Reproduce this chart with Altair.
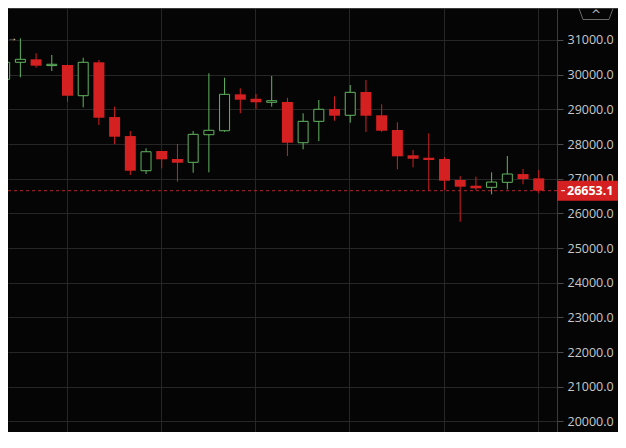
import altair as alt
import pandas as pd

# ---- data (daily candles) ----
idx = list(range(35))
opens = [29866, 30357, 30443, 30262, 30279, 29393, 30357, 28778, 28230, 27229,
         27798, 27567, 27472, 28268, 28383, 29433, 29306, 29203, 29211, 28037,
         28654, 29009, 28828, 29500, 28828, 28404, 27674, 27604, 27567, 26961,
         26797, 26750, 26895, 27134, 27010]
highs = [30450, 31049, 30616, 30567, 30290, 30489, 30423, 29076, 28375, 27876,
         27800, 28000, 28375, 30039, 29912, 29607, 29442, 29961, 29335, 28885,
         29269, 29376, 29702, 29846, 29145, 28626, 27827, 28308, 27616, 27076,
         27056, 27183, 27653, 27278, 27249]
lows = [29800, 29924, 30201, 30106, 29220, 29058, 28548, 28000, 27105, 27134,
        27298, 26912, 27172, 27183, 28350, 28885, 29009, 29076, 27653, 27847,
        28086, 28672, 28614, 28346, 28350, 27270, 27327, 26652, 26672, 25758,
        26672, 26548, 26693, 26837, 26577]
closes = [30357, 30443, 30259, 30300, 29393, 30357, 28758, 28210, 27229, 27777,
          27558, 27460, 28279, 28395, 29433, 29278, 29203, 29249, 28037, 28654,
          29001, 28816, 29491, 28816, 28383, 27645, 27575, 27538, 26941, 26768,
          26722, 26903, 27134, 26990, 26653.1]
last_price = [26653.1]
y_ticks = [20000, 21000, 22000, 23000, 24000, 25000, 26000, 27000, 28000, 29000, 30000, 31000]
grid_x = [3.94, 9.94, 15.94, 21.94, 27.94, 33.94]
marker_text = ["→"]

BG = "#050505"
RED = "#d42020"
GREEN = "#62b562"
GRID = "#262626"
LINE = "#3a3a3a"

df = pd.DataFrame({"i": idx, "open": opens, "high": highs, "low": lows, "close": closes})
df["dir"] = ["up" if c >= o else "down" for o, c in zip(opens, closes)]
price_df = pd.DataFrame({"price": last_price})
marker_df = pd.DataFrame({"i": [idx[1]], "high": [highs[1]], "t": marker_text})

xscale = alt.Scale(domain=[0.53125, 34.84375], nice=False, zero=False)
yscale = alt.Scale(domain=[19693, 31923], nice=False, zero=False)

x_axis = alt.Axis(orient="top", values=grid_x, labels=False, ticks=False, domain=True,
                  domainColor=LINE, grid=True, gridColor=GRID, gridWidth=1, title=None)
y_axis = alt.Axis(orient="right", values=y_ticks, format=".1f", title=None,
                  labelColor="#c8c8c8", labelFontSize=12.5, labelFont="Open Sans",
                  tickColor="#4a4a4a", tickSize=6, labelPadding=4,
                  domainColor=LINE, grid=True, gridColor=GRID, gridWidth=1)


def X(field):
    return alt.X(field, scale=xscale, axis=x_axis)


def Y(field):
    return alt.Y(field, scale=yscale, axis=y_axis)


base = alt.Chart(df)

wicks = base.mark_rule(strokeWidth=1, clip=True).encode(
    x=X("i:Q"),
    y=Y("low:Q"),
    y2="high:Q",
    color=alt.Color("dir:N", scale=alt.Scale(domain=["up", "down"], range=[GREEN, RED]), legend=None),
)

red_bodies = base.transform_filter(alt.datum.dir == "down").mark_bar(
    size=11, color=RED, clip=True
).encode(x=X("i:Q"), y=Y("open:Q"), y2="close:Q")

green_bodies = base.transform_filter(alt.datum.dir == "up").mark_bar(
    size=10, fill=BG, stroke=GREEN, strokeWidth=1, clip=True
).encode(x=X("i:Q"), y=Y("open:Q"), y2="close:Q")

price_line = alt.Chart(price_df).mark_rule(color="#b5262c", strokeDash=[3, 3], strokeWidth=1).encode(
    y=Y("price:Q")
)

price_box = alt.Chart(price_df).mark_tick(
    orient="horizontal", thickness=20, size=64, color=RED, opacity=1, clip=False
).encode(y=Y("price:Q"), x=alt.value(581))

price_dash = alt.Chart(price_df).mark_rule(color="white", strokeWidth=1, clip=False).encode(
    y=Y("price:Q"), x=alt.value(553), x2=alt.value(557),
)

price_text = alt.Chart(price_df).mark_text(
    align="left", baseline="middle", color="white", fontWeight="bold",
    fontSize=12.5, font="Open Sans", clip=False
).encode(
    y=Y("price:Q"),
    x=alt.value(559),
    text=alt.Text("price:Q", format=".1f"),
)

marker = alt.Chart(marker_df).mark_text(
    align="center", baseline="middle", color="#dddddd", fontSize=10, dx=-8, clip=True
).encode(x=X("i:Q"), y=Y("high:Q"), text="t:N")

# top border continuing over the price-axis area, and the collapse button
top_line = alt.Chart(price_df).mark_rule(color=LINE, clip=False).encode(
    x=alt.value(549), x2=alt.value(610), y=alt.value(0.5), y2=alt.value(0.5)
)
btn_l = alt.Chart(price_df).mark_rule(color="#6a6a6a", clip=False).encode(
    x=alt.value(571), y=alt.value(0.5), x2=alt.value(575), y2=alt.value(11.5))
btn_b = alt.Chart(price_df).mark_rule(color="#6a6a6a", clip=False).encode(
    x=alt.value(575), y=alt.value(11.5), x2=alt.value(601), y2=alt.value(11.5))
btn_r = alt.Chart(price_df).mark_rule(color="#6a6a6a", clip=False).encode(
    x=alt.value(601), y=alt.value(11.5), x2=alt.value(605), y2=alt.value(0.5))
btn_t = alt.Chart(price_df).mark_text(
    text="^", color="#bbbbbb", fontSize=12, font="DejaVu Sans", align="center", baseline="middle", clip=False
).encode(x=alt.value(588), y=alt.value(7))

chart = alt.layer(
    wicks, price_line, red_bodies, green_bodies, marker,
    price_box, price_dash, price_text, top_line, btn_l, btn_b, btn_r, btn_t,
).properties(
    width=549, height=424,
    background=BG,
    padding={"left": 0, "top": 0, "right": 61, "bottom": 0},
    autosize=alt.AutoSizeParams(type="none"),
).configure_view(stroke=None)

chart.save("out.html", embed_options={"renderer": "svg", "actions": False})
